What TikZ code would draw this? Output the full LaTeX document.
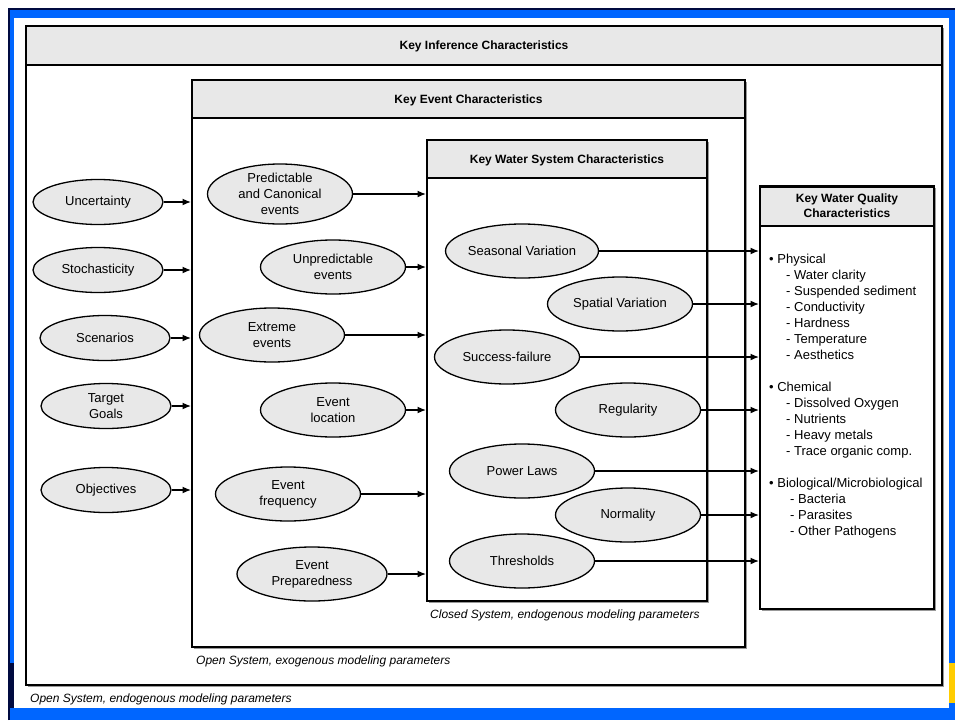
\documentclass[tikz,border=0pt]{standalone}
\usepackage{fontspec}
\setmainfont{Liberation Sans}
\usetikzlibrary{shapes.geometric,arrows.meta,shadows}
\definecolor{slideblue}{HTML}{0066FF}
\definecolor{slidenavy}{HTML}{000A40}
\definecolor{slidegold}{HTML}{FFCC00}
\definecolor{boxgray}{HTML}{E8E8E8}

\begin{document}
\begin{tikzpicture}[x=1pt,y=-1pt]
		\tikzstyle{every node}+=[inner sep=0pt,font=\fontsize{13}{16}\selectfont]
		\tikzstyle{frame}=[draw=black,line width=2pt,fill=white,drop shadow={shadow xshift=2pt,shadow yshift=-2pt,fill=black!40,opacity=1}]
		\tikzstyle{head}=[draw=black,line width=2pt,fill=boxgray,align=center,font=\fontsize{12}{15}\selectfont\bfseries]
		\tikzstyle{cause}=[ellipse,draw=black,line width=1.3pt,fill=boxgray,align=center,minimum width=130pt,minimum height=45pt]
		\tikzstyle{event}=[cause,minimum width=145pt,minimum height=54pt]
		\tikzstyle{note}=[anchor=west,font=\fontsize{12}{14}\selectfont\itshape]
		\tikzstyle{link}=[line width=1.4pt,-{Latex[length=8.5pt,width=7pt]}]
		\useasboundingbox (0,0) rectangle (955,720);
		\fill [slideblue] (8,8) rectangle (955,720);
		\fill [slidenavy] (9,663) rectangle (14,708);
		\fill [slidegold] (949,663) rectangle (955,703);
		\fill [white] (14,18) rectangle (949,708);
		\draw [slidenavy,line width=1.5pt] (8.75,720) -- (8.75,8.75) -- (955,8.75);
		\node [frame,minimum width=916pt,minimum height=659pt] (inf) at (484,355.5) {};
		\node [head,minimum width=916pt,minimum height=39pt] (infhead) at (484,45.5) {\rule{0pt}{11pt}Key Inference Characteristics};
		\node [frame,minimum width=553pt,minimum height=567pt] (ev) at (468.5,363.5) {};
		\node [head,minimum width=553pt,minimum height=38pt] (evhead) at (468.5,99) {\rule{0pt}{11pt}Key Event Characteristics};
		\node [frame,minimum width=280pt,minimum height=461pt] (ws) at (567,370.5) {};
		\node [head,minimum width=280pt,minimum height=38pt] (wshead) at (567,159) {\rule{0pt}{11pt}Key Water System Characteristics};
		\node [frame,minimum width=174pt,minimum height=423pt] (wq) at (847,397.5) {};
		\node [head,minimum width=174pt,minimum height=39pt] (wqhead) at (847,206) {Key Water Quality\\Characteristics};
		\node [cause] (unc) at (98,202) {Uncertainty};
		\node [cause] (sto) at (98,270) {Stochasticity};
		\node [cause] (scn) at (105,338) {Scenarios};
		\node [cause] (tgt) at (106,406) {Target\\Goals};
		\node [cause] (obj) at (106,490) {Objectives};
		\node [event,minimum height=60pt] (pce) at (280,194) {Predictable\\and Canonical\\events};
		\node [event] (une) at (333,267) {Unpredictable\\events};
		\node [event] (ext) at (272,335) {Extreme\\events};
		\node [event] (loc) at (333,410) {Event\\location};
		\node [event] (frq) at (288,494) {Event\\frequency};
		\node [event,minimum width=150pt] (prp) at (312,574) {Event\\Preparedness};
		\node [event] (sea) at (522,251) {Seasonal Variation};
		\node [event] (spa) at (620,304) {Spatial Variation};
		\node [event] (suc) at (507,357) {Success-failure};
		\node [event] (reg) at (628,410) {Regularity};
		\node [event] (pow) at (522,471) {Power Laws};
		\node [event] (nrm) at (628,515) {Normality};
		\node [event] (thr) at (522,561) {Thresholds};
		\foreach \n in {unc,sto,scn,tgt,obj}
			\draw [link] (\n.east) -- (\n.east -| ev.west);
		\foreach \n in {pce,une,ext,loc,frq,prp}
			\draw [link] (\n.east) -- (\n.east -| ws.west);
		\foreach \n in {sea,spa,suc,reg,pow,nrm,thr}
			\draw [link] (\n.east) -- (\n.east -| wq.west);
		\node [anchor=north west,align=left] (wqlist) at (769,254) {\textbullet\ Physical\\
			\hspace*{17pt}- Water clarity\\
			\hspace*{17pt}- Suspended sediment\\
			\hspace*{17pt}- Conductivity\\
			\hspace*{17pt}- Hardness\\
			\hspace*{17pt}- Temperature\\
			\hspace*{17pt}- Aesthetics\\[16pt]
			\textbullet\ Chemical\\
			\hspace*{17pt}- Dissolved Oxygen\\
			\hspace*{17pt}- Nutrients\\
			\hspace*{17pt}- Heavy metals\\
			\hspace*{17pt}- Trace organic comp.\\[16pt]
			\textbullet\ Biological/Microbiological\\
			\hspace*{21pt}- Bacteria\\
			\hspace*{21pt}- Parasites\\
			\hspace*{21pt}- Other Pathogens};
		\node [note] (closed) at (430,615) {Closed System, endogenous modeling parameters};
		\node [note] (exo) at (196,661) {Open System, exogenous modeling parameters};
		\node [note] (endo) at (30,699) {Open System, endogenous modeling parameters};
	\end{tikzpicture}
\end{document}
